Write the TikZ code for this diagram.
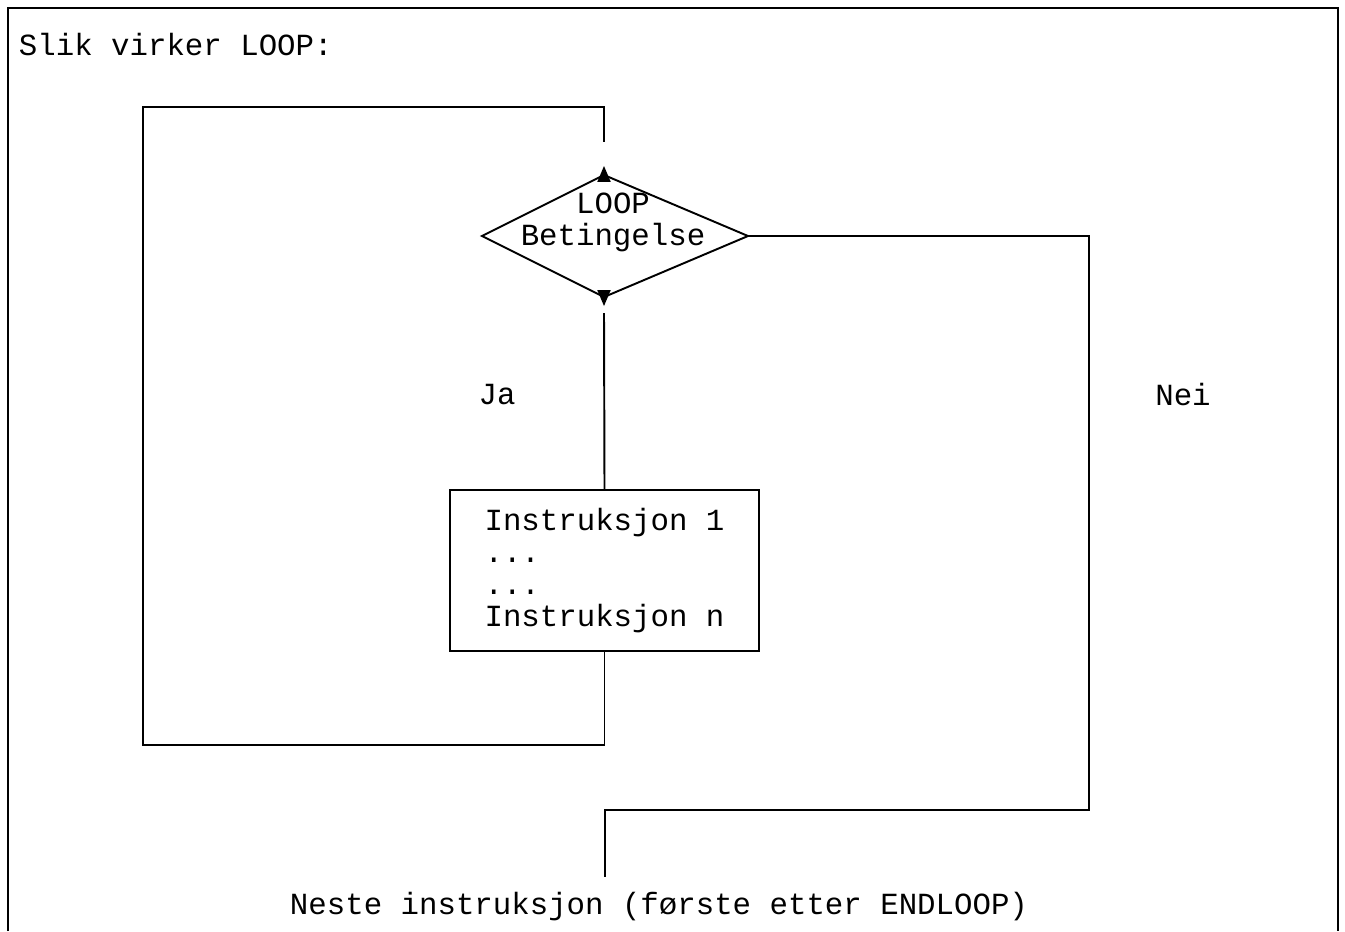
\documentclass[tikz,border=0pt]{standalone}
\usepackage{fontspec}
\setmonofont{Liberation Mono}
\usetikzlibrary{arrows}
\usetikzlibrary{positioning}

\tikzset{
 txt/.style={font=\ttfamily\fontsize{17.5}{18.3}\selectfont, inner sep=0},
 instrbox/.style={draw, txt, align=left, minimum width=6.18cm, minimum height=3.22cm}
}

\begin{document}
\begin{tikzpicture}[x=.02cm, y=-.02cm, line width=1.1pt, >=triangle 45]
\useasboundingbox (0,0) rectangle (1345,931);
\draw (8,931) -- (8,8) -- (1338,8) -- (1338,931);
\node[txt, anchor=west] (title) at (18,45) {Slik virker LOOP:};

% testen
\coordinate (dtop) at (604,175);
\coordinate (dleft) at (482,236);
\coordinate (dbot) at (604,297);
\coordinate (dright) at (748,236);
\draw (dtop) -- (dright) -- (dbot) -- (dleft) -- cycle;
\node[txt, align=center] (test) at (613,222) {LOOP\\Betingelse};
\node[instrbox] (body) at (604.5,570.5) {Instruksjon 1\\...\\...\\Instruksjon n};

\coordinate (gapup) at (604,142);
\coordinate (gapdown) at (604,313);
\coordinate (exit) at (605,877);

% tilbake til testen
\draw (body.south) |- (143,745) |- (604,107) -- (gapup);
\draw[->] (dtop) -- ++(0,-9);
\draw[->] (dbot) -- ++(0,9);
\draw (gapdown) -- (body.north);
% ut av loopen
\draw (dright) -| (1089,810) -| (exit);

\node[txt] (ja) at (497,395) {Ja};
\node[txt] (nei) at (1183,394) {Nei};
\node[txt] (next) at (659,907) {Neste instruksjon (første etter ENDLOOP)};
\end{tikzpicture}
\end{document}
